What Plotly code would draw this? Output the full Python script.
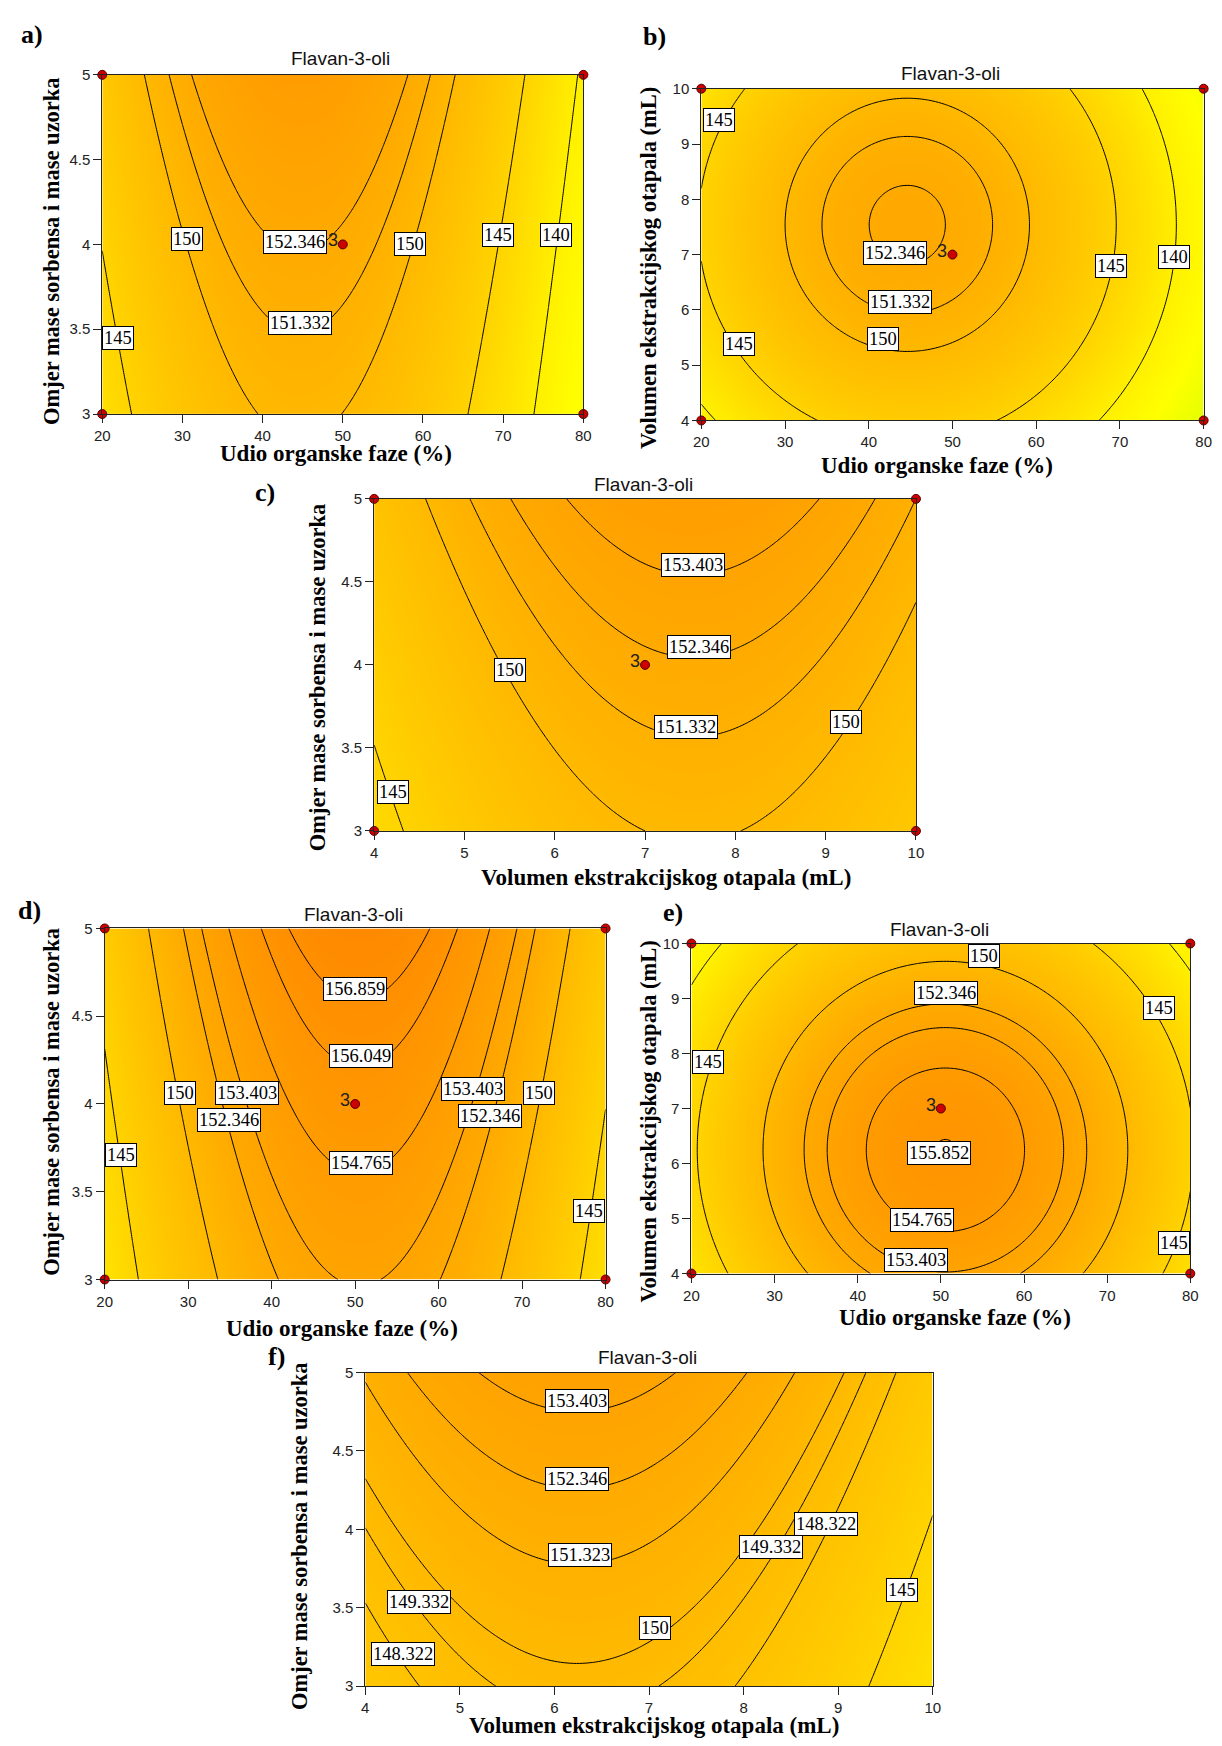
import numpy as np
import plotly.graph_objects as go

W, H = 1222, 1746

# ---------------- data ----------------
# Fitted quadratic response-surface models (coded factors -1..+1), one per panel
# order: [b0, b_x, b_y, b_xx, b_yy, b_xy]
coef_a = [152.08, -3.90, 2.11, -10.90, 0.01, 0.0]
coef_b = [152.10, -3.95, 1.60, -10.98, -4.46, 0.0]
coef_c = [152.11, 1.59, 2.12, -4.50, 0.01, 0.0]
coef_d = [155.60, 0.364, 2.12, -10.90, 0.0, 0.0]
coef_e = [155.585, 0.40, -2.25, -10.98, -4.50, 0.0]
coef_f = [151.51, -2.25, 2.12, -4.45, 0.024, 0.0]

# contour levels shown in each panel
levels_a = [140, 145, 150, 151.332, 152.346]
levels_b = [140, 145, 150, 151.332, 152.346]
levels_c = [145, 150, 151.332, 152.346, 153.403]
levels_d = [145, 150, 152.346, 153.403, 154.765, 156.049, 156.859]
levels_e = [140, 145, 150, 152.346, 153.403, 154.765, 155.852]
levels_f = [145, 148.322, 149.332, 150, 151.323, 152.346, 153.403]

# factor ranges and ticks
udio_range = [20, 80]
udio_ticks = [20, 30, 40, 50, 60, 70, 80]
vol_range = [4, 10]
vol_ticks = [4, 5, 6, 7, 8, 9, 10]
omjer_range = [3, 5]
omjer_ticks = [3, 3.5, 4, 4.5, 5]
omjer_ticktext = ["3", "3.5", "4", "4.5", "5"]

# design points (corners + centre point with 3 replicates)
center_udio_omjer = (50, 4)
center_udio_vol = (50, 7)
center_vol_omjer = (7, 4)
replicates = "3"

title_txt = "Flavan-3-oli"
xt_udio = "Udio organske faze (%)"
xt_vol = "Volumen ekstrakcijskog otapala (mL)"
yt_omjer = "Omjer mase sorbensa i mase uzorka"

# ---------------- layout (pixel boxes on the 1222x1746 page) ----------------
panels = [
    dict(letter="a)", coef=coef_a, levels=levels_a, xr=udio_range, xt=udio_ticks,
         yr=omjer_range, yt=omjer_ticks, ytt=omjer_ticktext, box=(95.5, 583, 66.5, 409),
         center=center_udio_omjer, pts=True,
         xtitle=xt_udio, ytitle=yt_omjer,
         let_pos=(24, 26), title_pos=(337, 50), xt_pos=(332, 449), yt_pos=(44, 244),
         labels=[("150", 30.6, 4.034), ("152.346", 44.05, 4.015), ("151.332", 44.7, 3.534),
                 ("150", 58.4, 4.005), ("145", 69.3, 4.057), ("140", 76.6, 4.057),
                 ("145", 22.0, 3.45)]),
    dict(letter="b)", coef=coef_b, levels=levels_b, xr=udio_range, xt=udio_ticks,
         yr=vol_range, yt=vol_ticks, ytt=None, box=(702.5, 1211.5, 80.5, 415.5),
         center=center_udio_vol, pts=True,
         xtitle=xt_udio, ytitle=xt_vol,
         let_pos=(655, 28), title_pos=(955, 65), xt_pos=(941, 461), yt_pos=(649, 262),
         labels=[("145", 22.07, 9.43), ("152.346", 43.1, 7.02), ("151.332", 43.7, 6.14),
                 ("150", 41.65, 5.47), ("145", 24.5, 5.38), ("145", 68.9, 6.8),
                 ("140", 76.5, 6.95)]),
    dict(letter="c)", coef=coef_c, levels=levels_c, xr=vol_range, xt=vol_ticks,
         yr=omjer_range, yt=omjer_ticks, ytt=omjer_ticktext, box=(371, 920, 494.7, 830),
         center=center_vol_omjer, pts=True,
         xtitle=xt_vol, ytitle=yt_omjer,
         let_pos=(260, 488), title_pos=(644, 480), xt_pos=(667, 877), yt_pos=(314, 675),
         labels=[("153.403", 7.53, 4.604), ("152.346", 7.6, 4.107), ("151.332", 7.45, 3.626),
                 ("150", 5.5, 3.968), ("150", 9.22, 3.656), ("145", 4.21, 3.233)]),
    dict(letter="d)", coef=coef_d, levels=levels_d, xr=udio_range, xt=udio_ticks,
         yr=omjer_range, yt=omjer_ticks, ytt=omjer_ticktext, box=(98, 605.5, 928.5, 1283),
         center=center_udio_omjer, pts=True,
         xtitle=xt_udio, ytitle=yt_omjer,
         let_pos=(22, 910), title_pos=(350, 914), xt_pos=(338, 1332), yt_pos=(44, 1103),
         labels=[("156.859", 49.97, 4.657), ("156.049", 50.67, 4.274), ("154.765", 50.67, 3.662),
                 ("150", 28.96, 4.062), ("153.403", 37.0, 4.062), ("152.346", 34.9, 3.908),
                 ("153.403", 64.07, 4.085), ("152.346", 66.17, 3.934), ("150", 72.0, 4.062),
                 ("145", 21.96, 3.708), ("145", 77.98, 3.389)]),
    dict(letter="e)", coef=coef_e, levels=levels_e, xr=udio_range, xt=udio_ticks,
         yr=vol_range, yt=vol_ticks, ytt=None, box=(692.5, 1198, 943.7, 1277),
         center=center_udio_vol, pts=True,
         xtitle=xt_udio, ytitle=xt_vol,
         let_pos=(674, 912), title_pos=(944, 930), xt_pos=(960, 1321), yt_pos=(649, 1124),
         labels=[("150", 55.13, 9.78), ("152.346", 50.66, 9.1), ("145", 76.2, 8.83),
                 ("145", 21.96, 7.85), ("155.852", 49.8, 6.19), ("154.765", 47.74, 4.98),
                 ("153.403", 47.0, 4.25), ("145", 78.03, 4.55)]),
    dict(letter="f)", coef=coef_f, levels=levels_f, xr=vol_range, xt=vol_ticks,
         yr=omjer_range, yt=omjer_ticks, ytt=omjer_ticktext, box=(362, 937, 1377, 1693.7),
         center=None, pts=False,
         xtitle=xt_vol, ytitle=yt_omjer,
         let_pos=(272, 1361), title_pos=(648, 1362), xt_pos=(655, 1733), yt_pos=(296, 1542),
         labels=[("153.403", 6.24, 4.819), ("152.346", 6.24, 4.32), ("151.323", 6.275, 3.836),
                 ("149.332", 4.573, 3.535), ("148.322", 4.396, 3.208), ("150", 7.063, 3.373),
                 ("149.332", 8.289, 3.889), ("148.322", 8.872, 4.032), ("145", 9.678, 3.611)]),
]

# colour scale (value -> colour), Design-Expert-like yellow -> orange
ZMIN, ZMAX = 130.0, 158.0
cstops = [(130, "rgb(212,255,0)"), (132, "rgb(232,255,0)"), (136, "rgb(255,255,0)"),
          (140, "rgb(255,240,0)"), (144, "rgb(255,217,0)"), (147, "rgb(255,201,0)"),
          (150, "rgb(255,185,0)"), (153, "rgb(255,166,0)"), (155.5, "rgb(255,151,0)"),
          (158, "rgb(255,136,0)")]
colorscale = [[(v - ZMIN) / (ZMAX - ZMIN), c] for v, c in cstops]


def px(x):
    return x / W


def py(y):
    return 1 - y / H


SANS = "Liberation Sans, Arial, sans-serif"
SERIF = "Liberation Serif, Times New Roman, serif"
AX = "#222222"

fig = go.Figure()
annotations = []
layout_axes = {}


def paper_text(x, y, text, font, angle=0):
    return dict(x=px(x), y=py(y), xref="paper", yref="paper", text=text, showarrow=False,
                xanchor="center", yanchor="middle", textangle=angle, font=font)


for i, p in enumerate(panels, start=1):
    xa = "x" if i == 1 else f"x{i}"
    ya = "y" if i == 1 else f"y{i}"
    x0, x1, y0, y1 = p["box"]
    xs = np.linspace(p["xr"][0], p["xr"][1], 181)
    ys = np.linspace(p["yr"][0], p["yr"][1], 181)
    xc, xh = (p["xr"][0] + p["xr"][1]) / 2, (p["xr"][1] - p["xr"][0]) / 2
    yc, yh = (p["yr"][0] + p["yr"][1]) / 2, (p["yr"][1] - p["yr"][0]) / 2
    XX, YY = np.meshgrid((xs - xc) / xh, (ys - yc) / yh)
    b = p["coef"]
    Z = b[0] + b[1] * XX + b[2] * YY + b[3] * XX ** 2 + b[4] * YY ** 2 + b[5] * XX * YY

    fig.add_trace(go.Heatmap(x=xs, y=ys, z=Z, colorscale=colorscale, zmin=ZMIN, zmax=ZMAX,
                             zsmooth="best", showscale=False, hoverinfo="skip",
                             xaxis=xa, yaxis=ya))
    for L in p["levels"]:
        fig.add_trace(go.Contour(x=xs, y=ys, z=Z, autocontour=False,
                                 contours=dict(start=L, end=L, size=1, coloring="none"),
                                 line=dict(color="black", width=1, smoothing=1),
                                 showscale=False, hoverinfo="skip", xaxis=xa, yaxis=ya))
    if p["pts"]:
        cx = [p["xr"][0], p["xr"][0], p["xr"][1], p["xr"][1], p["center"][0]]
        cy = [p["yr"][0], p["yr"][1], p["yr"][0], p["yr"][1], p["center"][1]]
        fig.add_trace(go.Scatter(x=cx, y=cy, mode="markers", cliponaxis=False,
                                 marker=dict(size=9, color="#CC0000",
                                             line=dict(color="#5a0000", width=1)),
                                 hoverinfo="skip", xaxis=xa, yaxis=ya))
        annotations.append(dict(x=p["center"][0], y=p["center"][1], xref=xa, yref=ya,
                                text=replicates, showarrow=False, xanchor="right",
                                yanchor="middle", xshift=-3, yshift=4,
                                font=dict(family=SANS, size=18, color="#222")))

    common = dict(showline=True, linecolor=AX, linewidth=1, mirror=True, ticks="outside",
                  ticklen=8, tickcolor=AX, showgrid=False, zeroline=False,
                  tickfont=dict(family=SANS, size=15, color=AX))
    xkey = "xaxis" if i == 1 else f"xaxis{i}"
    ykey = "yaxis" if i == 1 else f"yaxis{i}"
    layout_axes[xkey] = dict(domain=[px(x0), px(x1)], range=p["xr"], tickvals=p["xt"],
                             anchor=ya, **common)
    ydict = dict(domain=[py(y1), py(y0)], range=p["yr"], tickvals=p["yt"], anchor=xa, **common)
    if p["ytt"] is not None:
        ydict["ticktext"] = p["ytt"]
    layout_axes[ykey] = ydict

    # contour value labels
    for txt, lx, ly in p["labels"]:
        annotations.append(dict(x=lx, y=ly, xref=xa, yref=ya, text=txt, showarrow=False,
                                xanchor="center", yanchor="middle",
                                bgcolor="white", bordercolor="black", borderwidth=1,
                                borderpad=1, font=dict(family=SERIF, size=18.5, color="black")))
    # titles
    annotations.append(paper_text(*p["title_pos"], title_txt,
                                  dict(family=SANS, size=19, color="#111")))
    annotations.append(paper_text(*p["let_pos"], "<b>" + p["letter"] + "</b>",
                                  dict(family=SERIF, size=26, color="black")))
    annotations.append(paper_text(*p["xt_pos"], "<b>" + p["xtitle"] + "</b>",
                                  dict(family=SERIF, size=23, color="black")))
    annotations.append(paper_text(*p["yt_pos"], "<b>" + p["ytitle"] + "</b>",
                                  dict(family=SERIF, size=22.5, color="black"), angle=-90))

fig.update_layout(width=W, height=H, margin=dict(l=0, r=0, t=0, b=0),
                  paper_bgcolor="white", plot_bgcolor="white", showlegend=False,
                  annotations=annotations, **layout_axes)

pin_script = (
    "document.documentElement.style.margin='0';"
    "document.body.style.margin='0';"
    "document.body.style.padding='0';"
    "document.documentElement.style.overflow='hidden';"
    "var gd=document.getElementById('{plot_id}');"
    "gd.style.position='absolute';gd.style.left='0px';gd.style.top='0px';"
)
fig.write_html("out.html", config={"displayModeBar": False, "responsive": False},
               post_script=pin_script)
